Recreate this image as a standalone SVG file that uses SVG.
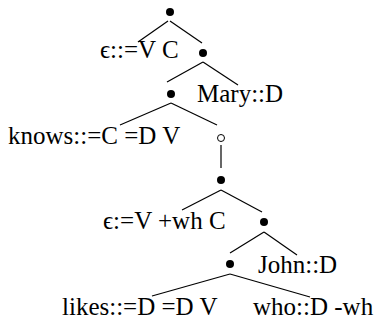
<svg xmlns="http://www.w3.org/2000/svg" width="380" height="322" viewBox="0 0 380 322">
<style>
text{font-family:"Liberation Serif","DejaVu Serif",serif;font-size:25px;fill:#000}
.e{stroke:#000;stroke-width:1.2;fill:none}
.d{fill:#000}
.o{fill:#fff;stroke:#000;stroke-width:1}
</style>
<rect width="380" height="322" fill="#fff"/>
<g id="connectors">
<line class="e" x1="168" y1="21" x2="138" y2="42"/>
<line class="e" x1="170" y1="21" x2="202" y2="43"/>
<line class="e" x1="203" y1="62" x2="167" y2="82"/>
<line class="e" x1="203" y1="62" x2="238" y2="85"/>
<line class="e" x1="171" y1="103" x2="120" y2="125"/>
<line class="e" x1="171" y1="103" x2="217" y2="125"/>
<line class="e" x1="221" y1="145" x2="221" y2="168"/>
<line class="e" x1="221" y1="190" x2="182" y2="210"/>
<line class="e" x1="221" y1="190" x2="262" y2="212"/>
<line class="e" x1="264" y1="232" x2="230" y2="253"/>
<line class="e" x1="264" y1="232" x2="297" y2="255"/>
<line class="e" x1="230" y1="274" x2="152" y2="296"/>
<line class="e" x1="230" y1="274" x2="310" y2="297"/>
</g>
<g id="n1"><circle class="d" cx="170" cy="12" r="4"/></g>
<g id="n2"><text x="100" y="58">ϵ::=V C</text></g>
<g id="n3"><circle class="d" cx="203" cy="53" r="4"/></g>
<g id="n4"><circle class="d" cx="171" cy="94" r="4"/></g>
<g id="n5"><text x="197" y="102">Mary::D</text></g>
<g id="n6"><text x="8" y="144">knows::=C =D V</text></g>
<g id="n7"><circle class="o" cx="221" cy="138" r="3.5"/></g>
<g id="n8"><circle class="d" cx="221" cy="180" r="4"/></g>
<g id="n9"><text x="103" y="229">ϵ:=V +wh C</text></g>
<g id="n10"><circle class="d" cx="264" cy="222" r="4"/></g>
<g id="n11"><circle class="d" cx="230" cy="264" r="4"/></g>
<g id="n12"><text x="258" y="273">John::D</text></g>
<g id="n13"><text x="62" y="315">likes::=D =D V</text></g>
<g id="n14"><text x="253" y="315">who::D -wh</text></g>
</svg>
